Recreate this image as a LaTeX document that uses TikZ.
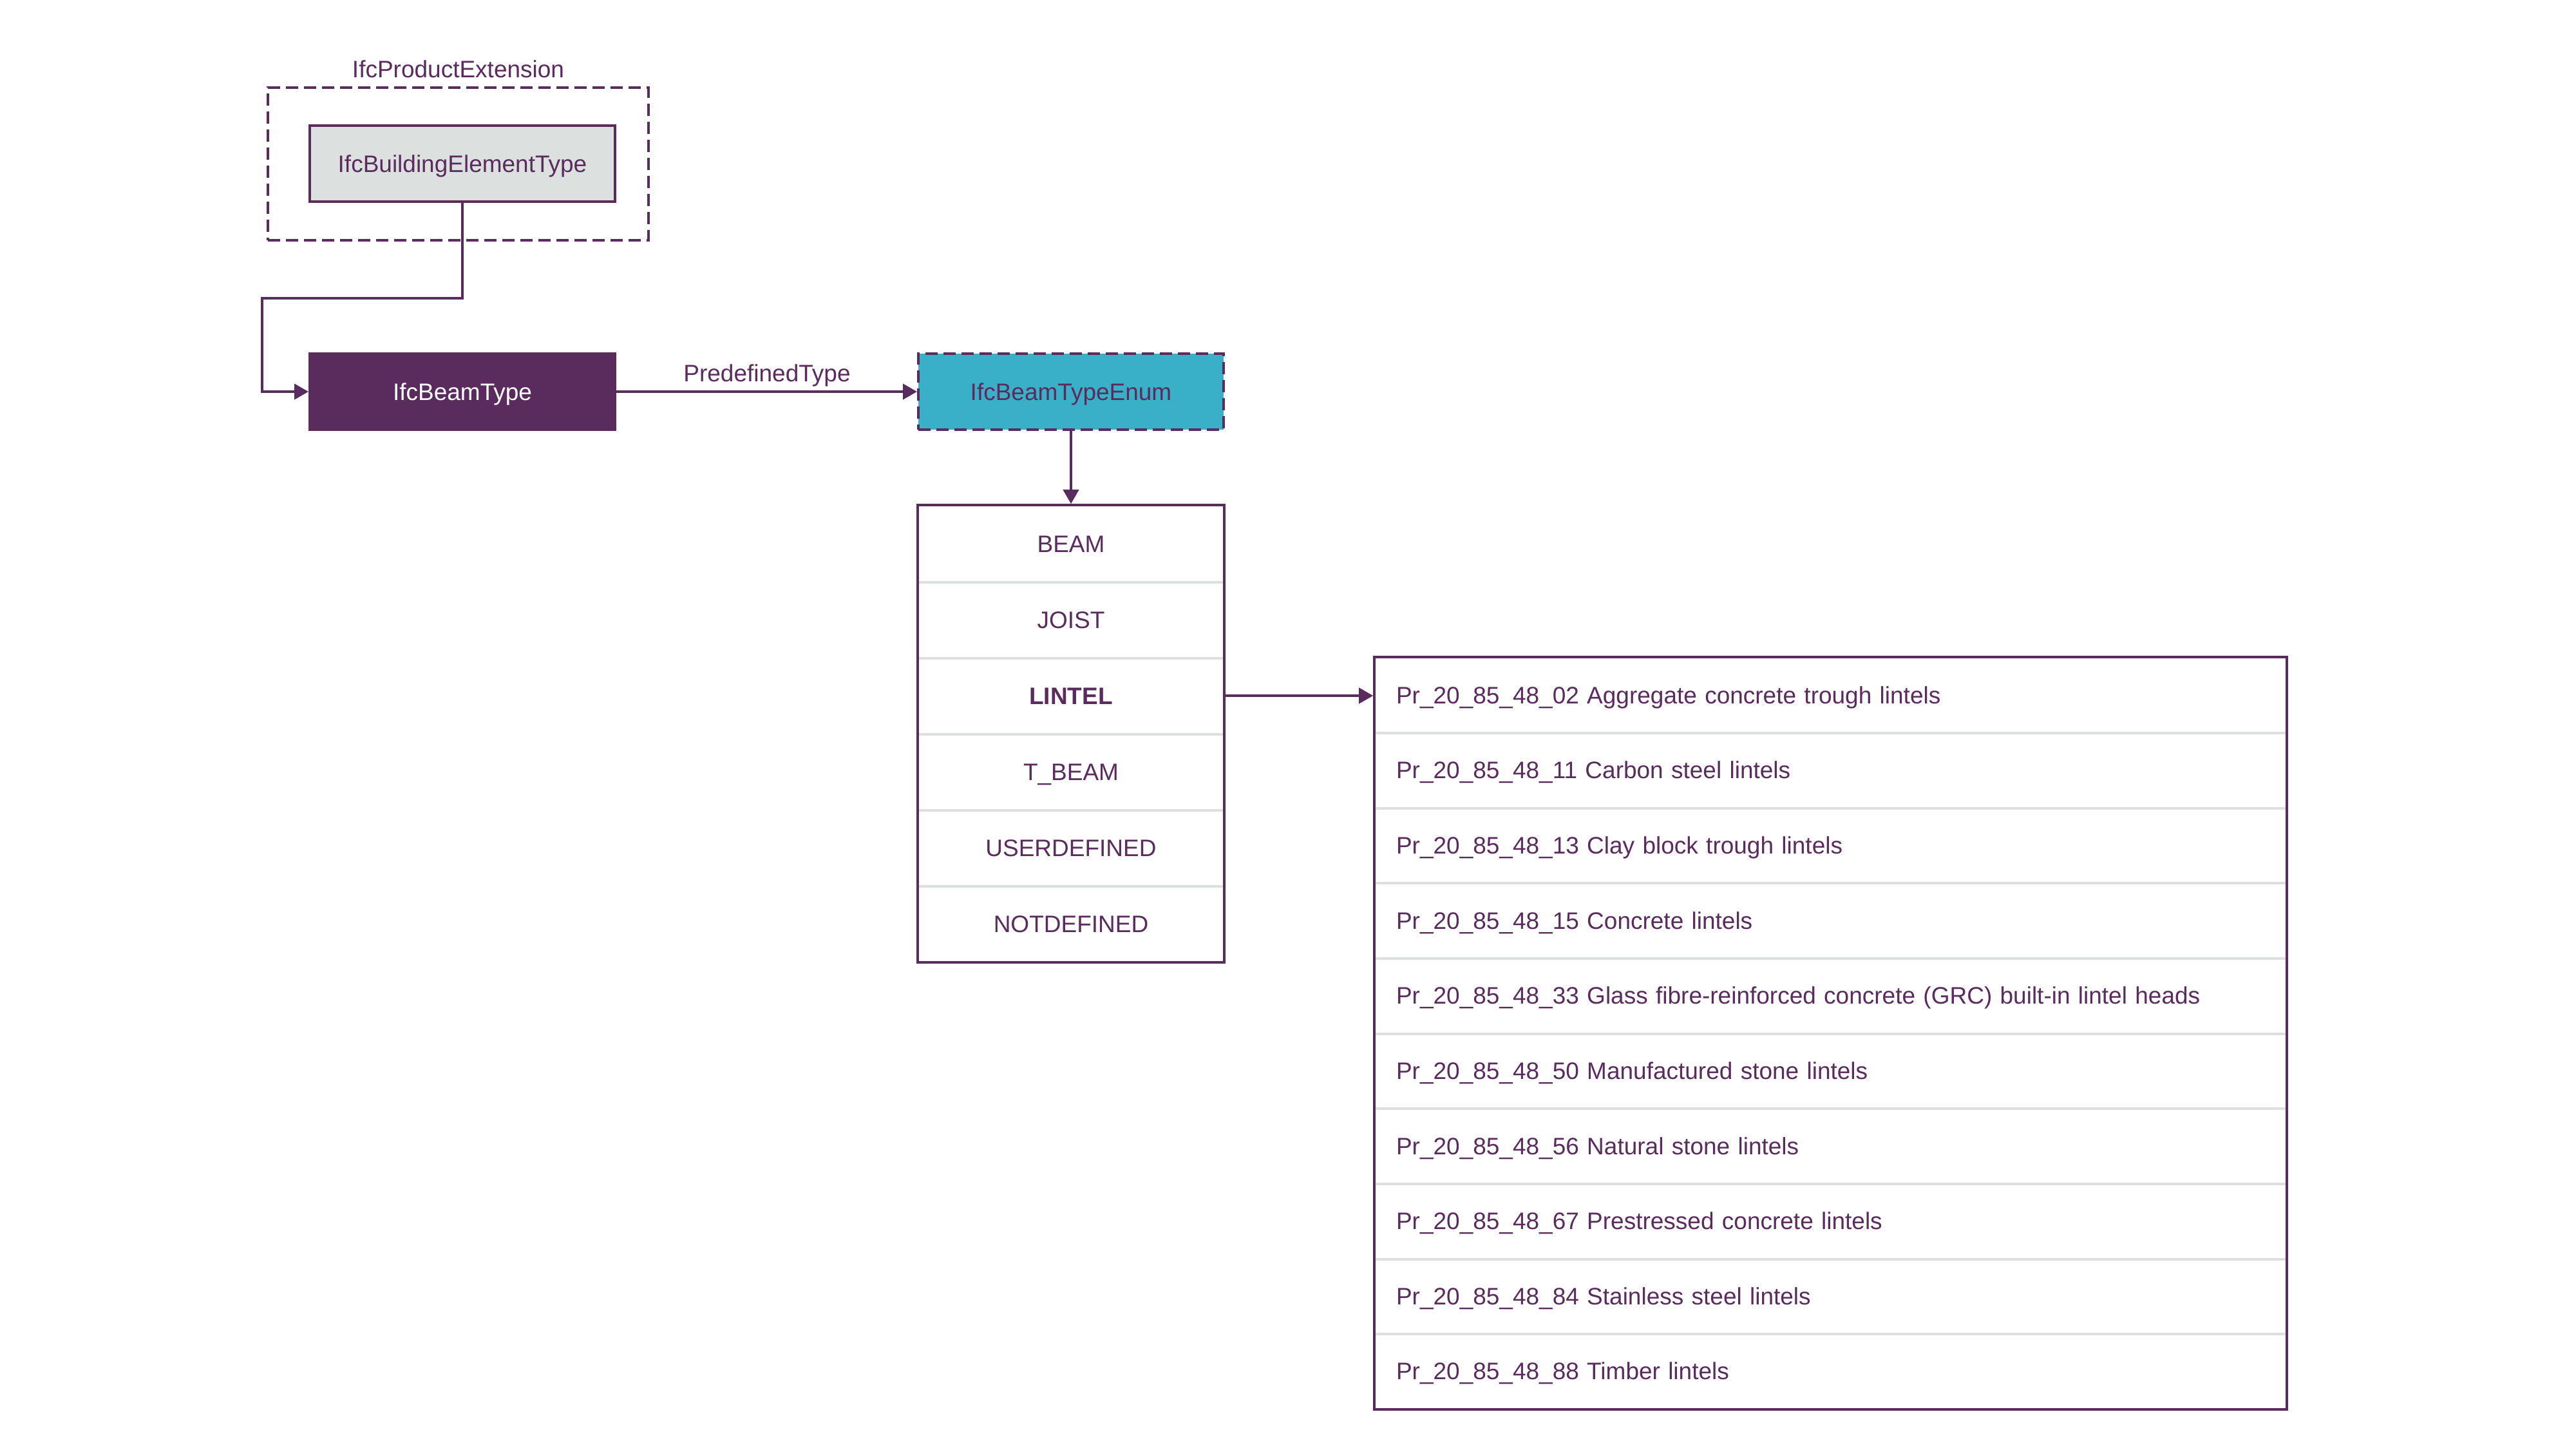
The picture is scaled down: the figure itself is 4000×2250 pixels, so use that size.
\documentclass[tikz,border=0pt]{standalone}
\usepackage{fontspec}
\setmainfont{Liberation Sans}
\usetikzlibrary{arrows.meta,fit}
\definecolor{ifcpurple}{RGB}{90,44,94}
\definecolor{ifcteal}{RGB}{58,175,200}
\definecolor{ifcgray}{RGB}{220,224,223}
\definecolor{sepgray}{RGB}{220,224,222}
\begin{document}
\begin{tikzpicture}[x=0.25pt,y=-0.25pt,
  every node/.style={font=\fontsize{9.25pt}{11pt}\selectfont, text=ifcpurple},
  typebox/.style={rectangle, draw=ifcpurple, line width=1pt, minimum width=118.5pt, minimum height=29.5pt, inner sep=0pt, text height=6.62pt, text depth=0pt},
  dashbox/.style={dash pattern=on 4.75pt off 2.25pt},
  erow/.style={rectangle, minimum width=118.5pt, minimum height=29.5pt, inner sep=0pt, text height=6.62pt, text depth=0pt},
  rrow/.style={rectangle, text width=337.25pt, align=left, inner xsep=8.25pt, inner ysep=0pt, minimum height=29.16pt, text height=6.62pt, text depth=0pt},
  sepline/.style={draw=sepgray, line width=1pt},
  conn/.style={draw=ifcpurple, line width=1pt, -{Triangle[length=5.5pt,width=6pt]}},
  listbox/.style={draw=ifcpurple, line width=1pt, inner sep=0pt, rectangle}
]
\useasboundingbox (0,0) rectangle (4000,2250);
\fill[white] (0,0) rectangle (4000,2250);

% IfcProductExtension group
\node[rectangle, draw=ifcpurple, line width=1pt, dashbox, minimum width=147.75pt, minimum height=59.25pt, inner sep=0pt] (ext) at (711.5,254.5) {};
\node[anchor=base] (extlabel) at (711.5,120) {IfcProductExtension};
\node[typebox, fill=ifcgray] (bet) at (718,254) {IfcBuildingElementType};

% IfcBeamType
\node[typebox, fill=ifcpurple, text=white] (beam) at (718,608) {IfcBeamType};

% Enum
\node[typebox, fill=ifcteal, dashbox] (enum) at (1663,608) {IfcBeamTypeEnum};

% connector BET -> beam
\coordinate (k1) at (407,463);
\draw[conn] (bet.south) -- (bet.south |- k1) -- (k1) |- (beam.west);

% PredefinedType
\draw[conn] (beam.east) -- (enum.west);
\node[anchor=base] (ptlabel) at (1191,592) {PredefinedType};

% enum list rows
\node[erow] (e1) at (1663,844) {BEAM};
\node[erow] (e2) at (1663,962) {JOIST};
\node[erow] (e3) at (1663,1080) {\bfseries LINTEL};
\node[erow] (e4) at (1663,1198) {T\_BEAM};
\node[erow] (e5) at (1663,1316) {USERDEFINED};
\node[erow] (e6) at (1663,1434) {NOTDEFINED};
\foreach \r in {e1,e2,e3,e4,e5}{
  \draw[sepline] (\r.south west) -- (\r.south east);
}
\node[listbox, fit=(e1)(e6)] (enumlist) {};
\draw[conn] (enum.south) -- (enumlist.north);

% right list rows
\node[rrow] (p1) at (2842.5,1079.0) {Pr\_20\_85\_48\_02 Aggregate concrete trough lintels};
\node[rrow] (p2) at (2842.5,1195.6) {Pr\_20\_85\_48\_11 Carbon steel lintels};
\node[rrow] (p3) at (2842.5,1312.3) {Pr\_20\_85\_48\_13 Clay block trough lintels};
\node[rrow] (p4) at (2842.5,1428.9) {Pr\_20\_85\_48\_15 Concrete lintels};
\node[rrow] (p5) at (2842.5,1545.5) {Pr\_20\_85\_48\_33 Glass fibre-reinforced concrete (GRC) built-in lintel heads};
\node[rrow] (p6) at (2842.5,1662.2) {Pr\_20\_85\_48\_50 Manufactured stone lintels};
\node[rrow] (p7) at (2842.5,1778.8) {Pr\_20\_85\_48\_56 Natural stone lintels};
\node[rrow] (p8) at (2842.5,1895.4) {Pr\_20\_85\_48\_67 Prestressed concrete lintels};
\node[rrow] (p9) at (2842.5,2012.1) {Pr\_20\_85\_48\_84 Stainless steel lintels};
\node[rrow] (p10) at (2842.5,2128.7) {Pr\_20\_85\_48\_88 Timber lintels};
\foreach \r in {p1,p2,p3,p4,p5,p6,p7,p8,p9}{
  \draw[sepline] (\r.south west) -- (\r.south east);
}
\node[listbox, fit=(p1)(p10)] (rlist) {};
\draw[conn] (e3.east) -- (e3.east -| rlist.west);
\end{tikzpicture}
\end{document}
